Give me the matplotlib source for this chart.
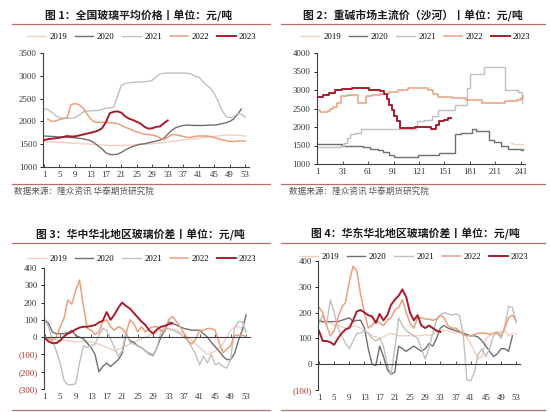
import numpy as np
import matplotlib
matplotlib.use("Agg")
import matplotlib.pyplot as plt
from matplotlib.lines import Line2D

plt.rcParams['font.family'] = ['Liberation Serif', 'Noto Sans CJK SC']

years = ["2019", "2020", "2021", "2022", "2023"]
colors = {"2019": "#f3cfc3", "2020": "#6f6f6f", "2021": "#c0c0c0",
          "2022": "#e9a07f", "2023": "#a81c2e"}
widths = {"2019": 1.0, "2020": 1.0, "2021": 1.0, "2022": 1.1, "2023": 1.4}

# 图1 全国玻璃平均价格 (weekly, start week of each series)
p1_start = {"2019": 1, "2020": 1, "2021": 1, "2022": 2, "2023": 1}
p1_2019 = [1560, 1555, 1550, 1545, 1540, 1535, 1530, 1525, 1520, 1515, 1510, 1505, 1500, 1495,
           1490, 1480, 1475, 1470, 1470, 1470, 1470, 1475, 1480, 1485, 1490, 1495, 1500, 1505,
           1510, 1520, 1530, 1540, 1550, 1560, 1570, 1580, 1590, 1600, 1610, 1620, 1630, 1640,
           1650, 1660, 1670, 1680, 1690, 1700, 1700, 1700, 1695, 1690, 1680]
p1_2020 = [1680, 1675, 1670, 1665, 1660, 1655, 1650, 1645, 1640, 1630, 1620, 1600, 1580, 1530,
           1460, 1400, 1310, 1275, 1270, 1280, 1320, 1370, 1420, 1450, 1480, 1500, 1510, 1530,
           1550, 1570, 1590, 1630, 1720, 1800, 1860, 1890, 1910, 1920, 1915, 1910, 1910, 1910,
           1915, 1920, 1920, 1930, 1950, 1970, 2000, 2050, 2150, 2270]
p1_2021 = [2280, 2260, 2200, 2130, 2080, 2070, 2070, 2070, 2080, 2130, 2200, 2230, 2230, 2235,
           2240, 2260, 2290, 2300, 2310, 2550, 2790, 2830, 2850, 2855, 2860, 2865, 2870, 2880,
           2900, 2980, 3040, 3055, 3060, 3060, 3060, 3060, 3060, 3055, 3040, 2990, 2970, 2880,
           2800, 2730, 2620, 2440, 2250, 2110, 2080, 2100, 2170, 2160, 2090]
p1_2022 = [2050, 2000, 2010, 2040, 2060, 2080, 2370, 2390, 2370, 2300, 2180, 2060, 1990, 1980,
           1980, 1980, 1975, 1965, 1950, 1910, 1870, 1840, 1800, 1770, 1740, 1720, 1710, 1700,
           1680, 1640, 1600, 1650, 1710, 1710, 1690, 1670, 1650, 1650, 1670, 1680, 1680, 1680,
           1670, 1650, 1620, 1600, 1580, 1560, 1560, 1570, 1570, 1570]
p1_2023 = [1590, 1610, 1620, 1630, 1640, 1660, 1680, 1670, 1670, 1690, 1710, 1730, 1750, 1770,
           1800, 1850, 1980, 2180, 2210, 2220, 2190, 2110, 2060, 2030, 1990, 1950, 1880, 1840,
           1850, 1880, 1890, 1960, 2020]
p1 = {"2019": p1_2019, "2020": p1_2020, "2021": p1_2021, "2022": p1_2022, "2023": p1_2023}

# 图2 重碱市场主流价（沙河）(step changes: day, price)
p2_x = {
    "2019": [230, 232, 236, 244],
    "2020": [1, 30, 47, 55, 63, 72, 78, 85, 92, 120, 145, 163, 171, 183, 188, 203, 210, 218,
             226, 241, 244],
    "2021": [1, 15, 28, 32, 36, 40, 45, 53, 116, 118, 127, 136, 143, 163, 177, 181, 198, 222,
             238, 242],
    "2022": [1, 4, 13, 16, 20, 24, 29, 37, 49, 58, 66, 75, 85, 96, 108, 128, 132, 137, 143,
             160, 176, 195, 222, 236, 241, 244],
    "2023": [1, 8, 15, 22, 30, 42, 62, 75, 80, 83, 86, 89, 92, 95, 98, 116, 135, 141, 145,
             150, 155, 159],
}
p2_y = {
    "2019": [1570, 1550, 1530, 1530],
    "2020": [1550, 1500, 1480, 1450, 1400, 1380, 1330, 1250, 1200, 1230, 1300, 1800, 1850,
             1950, 1900, 1650, 1600, 1500, 1400, 1370, 1400],
    "2021": [1450, 1470, 1500, 1570, 1700, 1800, 1850, 1950, 1950, 2150, 2180, 2300, 2450,
             2600, 3050, 3420, 3630, 3000, 2950, 2650],
    "2022": [2470, 2400, 2420, 2500, 2550, 2650, 2830, 2860, 2660, 2850, 2870, 2900, 2950,
             3000, 3050, 3050, 3000, 2900, 2800, 2780, 2720, 2660, 2700, 2720, 2780, 2830],
    "2023": [2820, 2870, 2920, 3000, 3030, 3060, 3000, 2960, 2880, 2750, 2600, 2450, 2300,
             2150, 1970, 2000, 1950, 2050, 2150, 2200, 2230, 2250],
}

# 图3 华中华北地区玻璃价差 (weekly)
p3 = {
    "2019": [0, -5, -10, -15, -20, -20, -20, -25, -30, -25, -20, -25, -30, -35, -40, -50, -60,
             -70, -80, -70, -60, -50, -40, -30, -20, -10, 0, 10, 20, 30, 40, 45, 50, 45, 40, 30,
             20, 0, -20, -40, -60, -80, -100, -90, -80, -60, -40, 0, 40, 60, 60, 50, 30],
    "2020": [100, 80, 30, 20, 20, 20, 25, 40, 10, 0, -10, -35, -60, -100, -200, -170, -150,
             -170, -150, -130, -95, 20, -20, -30, -50, -60, -80, -95, -105, -60, 0, 40, 90, 80,
             70, 60, 50, 45, 40, 40, 40, 20, 0, -30, -55, -80, -110, -130, -130, -95, -20, 40, 130],
    "2021": [100, 60, -20, -80, -150, -250, -275, -275, -270, -150, -50, -60, -50, -40, 10, 50,
             40, -10, -60, -110, -80, 30, -30, -40, -50, -60, -80, -100, -110, -60, 30, 50, 50,
             40, 30, 20, 0, -20, -60, -100, -160, -110, -150, -100, -160, -150, -170, -180,
             -130, 50, 90, 90, 30],
    "2022": [0, -10, -20, 0, 60, 110, 215, 190, 270, 330, 180, 50, 40, 15, 30, 90, 100, 60, 40,
             60, 50, 20, 100, 80, 30, 60, 30, 50, 60, 60, 40, 30, 100, 120, 90, 60, 20, -20,
             -40, -10, 40, 40, 50, 50, 40, -30, -90, -70, -50, 10, 10, 10, 5],
    "2023": [-5, -25, -35, -35, -20, 5, 20, 30, 45, 55, 60, 60, 65, 70, 85, 95, 145, 100, 130,
             170, 200, 180, 165, 140, 115, 90, 70, 40, 20, 45, 60, 65, 75, 80],
}

# 图4 华东华北地区玻璃价差 (weekly)
p4 = {
    "2019": [160, 165, 165, 160, 150, 150, 145, 140, 145, 150, 145, 140, 130, 120, 110, 105,
             100, 105, 115, 120, 115, 110, 110, 110, 110, 110, 110, 110, 115, 110, 115, 125, 130,
             130, 130, 125, 120, 125, 130, 100, 80, 50, 20, 30, 100, 110, 120, 120, 125, 130,
             110, 120, 115],
    "2020": [170, 165, 165, 165, 165, 165, 170, 175, 180, 165, 170, 170, 140, 60, 0, -5, 70, 30,
             -20, -40, -30, 70, 60, 50, 60, 70, 60, 50, 60, 80, 70, 100, 140, 150, 140, 135, 130,
             125, 120, 115, 110, 110, 105, 90, 70, 50, 30, 40, 60, 60, 50, 110],
    "2021": [160, 190, 150, 250, 200, 140, 110, 80, 60, 90, 120, 120, 130, 120, 100, 90, 100,
             70, 0, -40, 60, 180, 150, 130, 120, 110, 100, 60, 20, 60, 120, 170, 190, 200, 195,
             190, 195, 190, 120, -60, -65, -30, 40, 60, 30, 60, 110, 120, 100, 150, 225, 220, 160],
    "2022": [220, 200, 150, 110, 130, 180, 220, 240, 320, 380, 360, 270, 200, 140, 150, 170,
             160, 150, 170, 180, 210, 220, 250, 200, 160, 140, 180, 180, 175, 175, 170, 175, 190,
             180, 150, 140, 140, 130, 115, 110, 110, 115, 120, 120, 120, 115, 120, 125, 110, 140,
             180, 190, 170],
    "2023": [130, 90, 90, 85, 75, 100, 120, 135, 140, 170, 205, 210, 200, 190, 185, 160, 195,
             170, 190, 230, 250, 265, 290, 260, 200, 170, 190, 150, 140, 150, 140, 130, 125],
}

titles = ["图 1：全国玻璃平均价格丨单位：元/吨",
          "图 2：重碱市场主流价（沙河）丨单位：元/吨",
          "图 3：华中华北地区玻璃价差丨单位：元/吨",
          "图 4：华东华北地区玻璃价差丨单位：元/吨"]
source = "数据来源：隆众资讯 华泰期货研究院"

week_ticks = list(range(1, 54, 4))
day_ticks = list(range(1, 242, 30))

W, H = 550, 412
fig = plt.figure(figsize=(5.5, 4.12), dpi=100)
cjk = ['Noto Sans CJK SC', 'DejaVu Sans']
sep_color = "#b5706a"
fs = 6.3


def px_axes(x0, y0, x1, y1):
    return fig.add_axes([x0 / W, 1 - y1 / H, (x1 - x0) / W, (y1 - y0) / H])


def hline(x0, x1, y):
    fig.add_artist(Line2D([x0 / W, x1 / W], [1 - y / H, 1 - y / H], color=sep_color, lw=0.9))


def fmt(v):
    return "(%d)" % -v if v < 0 else "%d" % v


def style(ax, yticks, xticks, zero_axis=False):
    for s in ["top", "right"]:
        ax.spines[s].set_visible(False)
    for s in ["left", "bottom"]:
        ax.spines[s].set_color("#404040")
        ax.spines[s].set_linewidth(0.8)
    ax.set_yticks(yticks)
    ax.set_yticklabels([fmt(v) for v in yticks])
    for lab, v in zip(ax.get_yticklabels(), yticks):
        lab.set_color("#a0302c" if v < 0 else "#333333")
    ax.tick_params(axis="y", direction="out", length=2.5, width=0.6, labelsize=fs, pad=2)
    ax.set_xticks(xticks)
    ax.tick_params(axis="x", direction="in", length=2.5, width=0.6, labelsize=fs, pad=3,
                   colors="#333333")
    if zero_axis:
        ax.spines["bottom"].set_position(("data", 0))
        ax.tick_params(axis="x", labelbottom=False)
        sec = ax.secondary_xaxis("bottom")
        sec.set_xticks(xticks)
        sec.tick_params(length=0, labelsize=fs, pad=3, colors="#333333")
        sec.spines["bottom"].set_visible(False)


def legend(ax, cx, cy):
    ax.legend(loc="center", bbox_to_anchor=(cx / W, 1 - cy / H), bbox_transform=fig.transFigure,
              ncol=5, frameon=False, fontsize=fs, handlelength=2.1, handletextpad=0.4,
              columnspacing=0.9, borderaxespad=0)


# panel 1
ax1 = px_axes(43, 53, 249, 167)
for y in years:
    vals = p1[y]
    x = np.arange(p1_start[y], p1_start[y] + len(vals))
    ax1.plot(x, vals, color=colors[y], lw=widths[y], label=y)
ax1.set_xlim(0.75, 54)
ax1.set_ylim(1000, 3500)
style(ax1, list(range(1000, 3501, 500)), week_ticks)
legend(ax1, 142, 37)

# panel 2
ax2 = px_axes(316.5, 53, 525, 164)
for y in years:
    ax2.plot(p2_x[y], p2_y[y], color=colors[y], lw=widths[y], label=y, drawstyle="steps-post")
ax2.set_xlim(0, 246)
ax2.set_ylim(1000, 4000)
style(ax2, list(range(1000, 4001, 500)), day_ticks)
legend(ax2, 416, 37)

# panel 3
ax3 = px_axes(43.7, 268, 250, 389)
for y in years:
    vals = p3[y]
    ax3.plot(np.arange(1, len(vals) + 1), vals, color=colors[y], lw=widths[y], label=y)
ax3.set_xlim(0.75, 54)
ax3.set_ylim(-300, 400)
style(ax3, list(range(-300, 401, 100)), week_ticks, zero_axis=True)
legend(ax3, 142, 259)

# panel 4
ax4 = px_axes(318, 261, 520, 390)
for y in years:
    vals = p4[y]
    ax4.plot(np.arange(1, len(vals) + 1), vals, color=colors[y], lw=widths[y], label=y)
ax4.set_xlim(0.75, 54)
ax4.set_ylim(-100, 400)
style(ax4, list(range(-100, 401, 100)), week_ticks, zero_axis=True)
legend(ax4, 414, 257)

# titles, separators, source notes
for t, (cx, cy) in zip(titles, [(139, 16), (413, 16), (140, 235), (415, 234)]):
    fig.text(cx / W, 1 - cy / H, t, ha="center", va="center", fontsize=7.8, fontweight="bold",
             family=cjk, color="#1a1a1a")
hline(12, 270, 24)
hline(281, 545, 24)
hline(12, 270, 184)
hline(281, 545, 184)
hline(12, 270, 243)
hline(281, 545, 243)
hline(12, 270, 410)
hline(281, 545, 410)
fig.text(14 / W, 1 - 191 / H, source, ha="left", va="center", fontsize=6.2, family=cjk,
         color="#555555")
fig.text(289 / W, 1 - 191 / H, source, ha="left", va="center", fontsize=6.2, family=cjk,
         color="#555555")

fig.savefig("out.png", dpi=100)
